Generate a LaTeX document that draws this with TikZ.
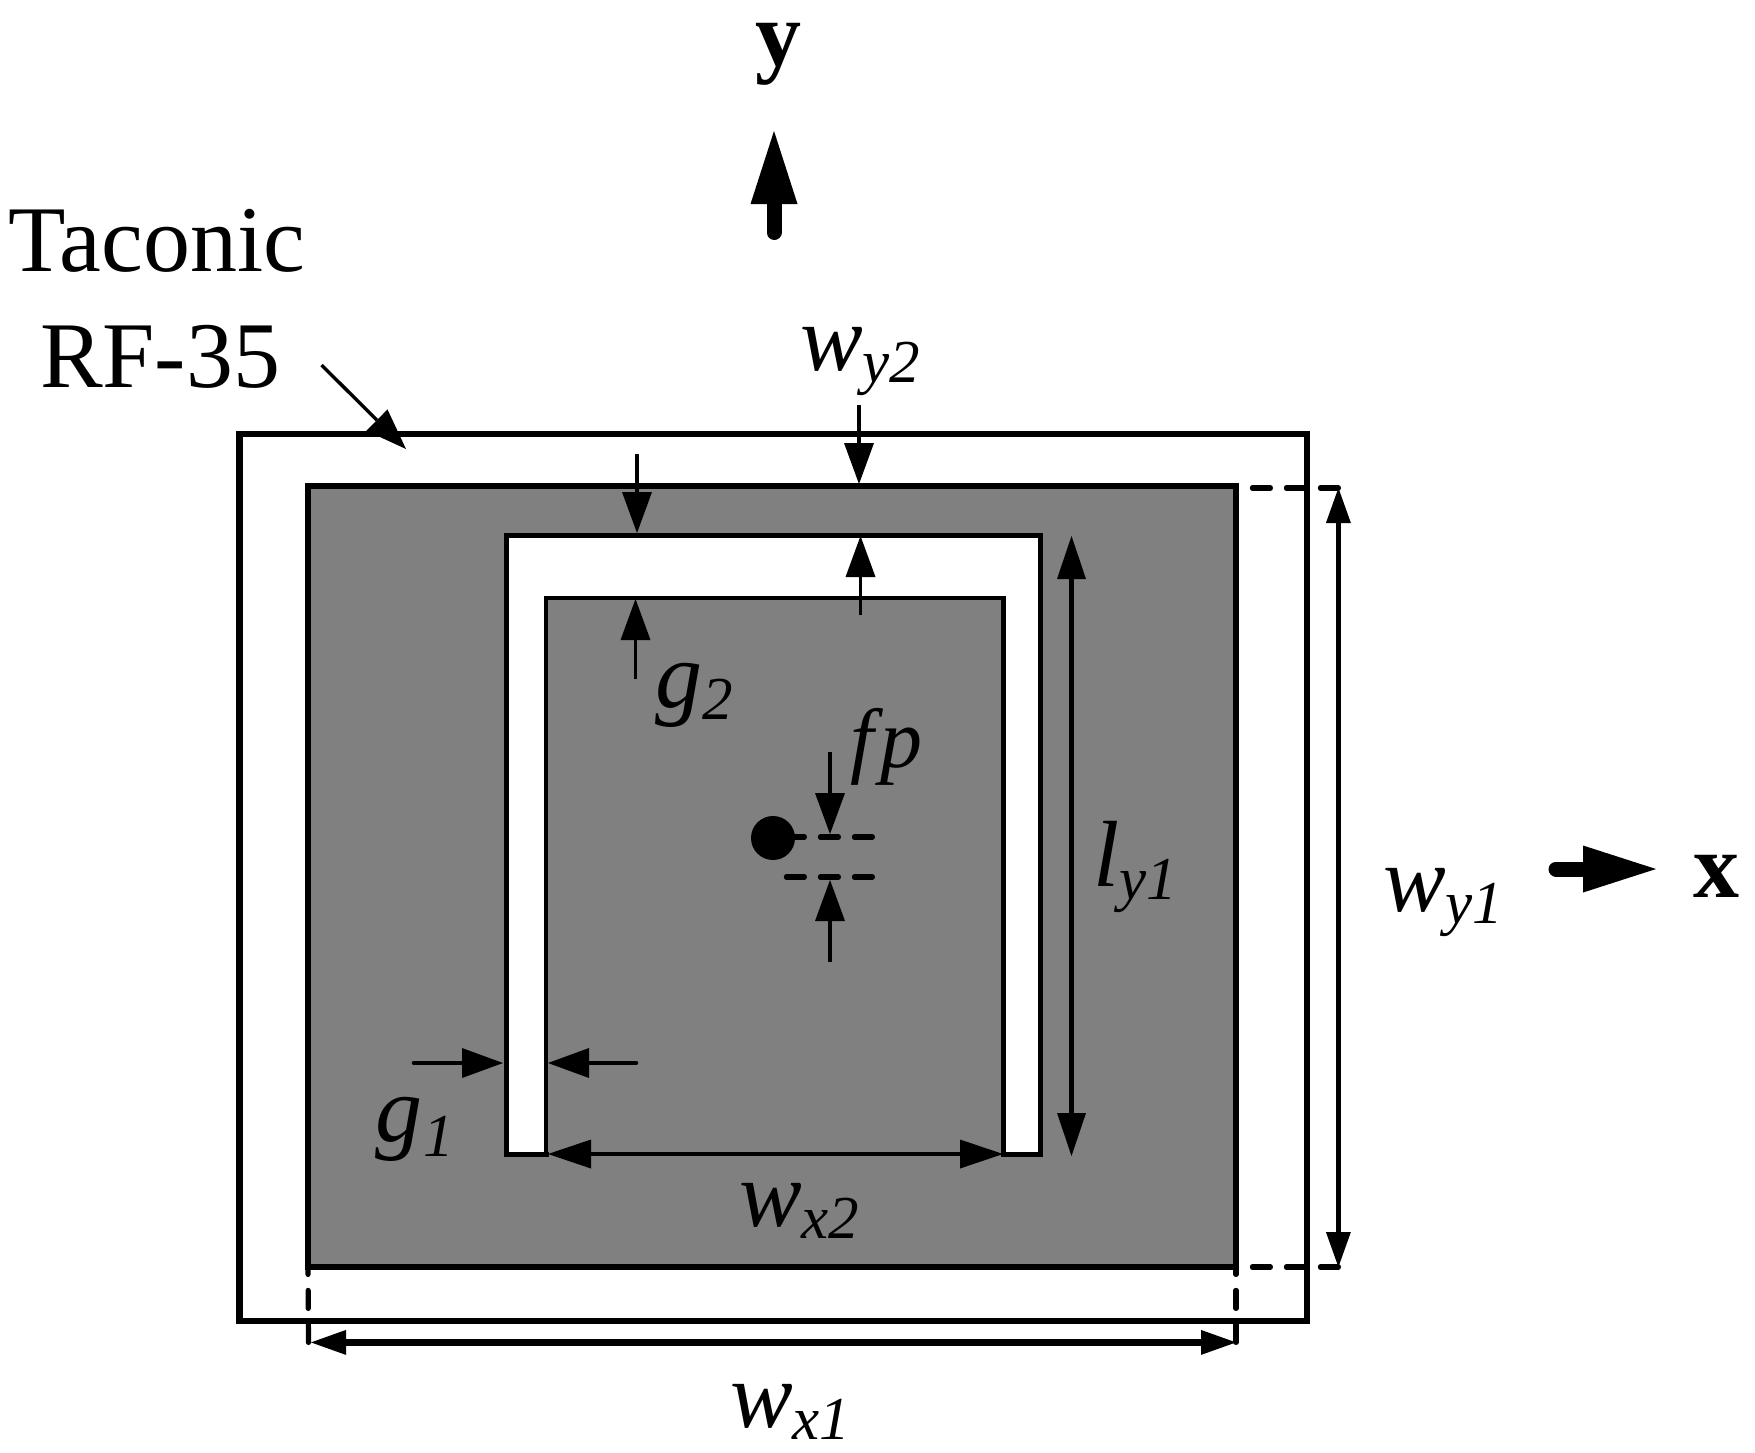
\documentclass[tikz,border=0pt]{standalone}
\usepackage{fontspec}
\setmainfont{Liberation Serif}
\usetikzlibrary{arrows.meta}
\newcommand{\dimlab}[3]{\fontsize{94}{94}\selectfont\textit{#1}\raisebox{-#3pt}{\fontsize{61}{61}\selectfont\textit{#2}}}
\definecolor{gray50}{RGB}{128,128,128}
\tikzset{
  x=1pt,y=-1pt,
  plain/.style={inner sep=0pt,outer sep=0pt,anchor=base west},
  txt/.style={plain,font=\fontsize{94}{94}\selectfont},
  axis/.style={plain,font=\fontsize{92}{92}\selectfont\bfseries},
  frame/.style={draw=black,line width=6.8pt},
  metal/.style={fill=gray50,draw=black,line width=5.8pt},
  dimtip/.style={-{Triangle[length=41pt,width=30pt,line width=0pt]},line width=3.4pt},
  dimthick/.style={-{Triangle[length=41pt,width=30pt,line width=0pt]},line width=4.6pt},
  dimboth/.style={{Triangle[length=43pt,width=29pt,line width=0pt]}-{Triangle[length=43pt,width=29pt,line width=0pt]},line width=4.8pt},
  dimwide/.style={{Triangle[length=35pt,width=25pt,line width=0pt]}-{Triangle[length=35pt,width=25pt,line width=0pt]},line width=5pt},
  guide/.style={line width=5.2pt,dash pattern=on 18pt off 16pt,line cap=round},
  bigarrow/.style={-{Triangle[length=73pt,width=47pt,line width=0pt]},line width=15pt,line cap=round},
}
\begin{document}
\begin{tikzpicture}
\useasboundingbox (0,0) rectangle (1755,1452);
% substrate and patch
\draw[frame,fill=white] (239.5,434) rectangle (1307,1321);
\draw[metal] (308,486) rectangle (1236,1267);
\path[fill=white,draw=black,line width=5pt] (546,1154) -- (546,598) -- (1003,598) -- (1003,1154) -- (1040,1154) -- (1040,535) -- (506,535) -- (506,1154) -- cycle;
\path[fill=gray50] (548,600) rectangle (1000.5,1151.5);
% reference coordinates
\coordinate (gtr) at (1236,488);
\coordinate (gbr) at (1236,1267);
\coordinate (gbl) at (308,1267);
\coordinate (wyTop) at (1338.4,488);
\coordinate (wyBot) at (1338.4,1267);
\coordinate (wxL) at (308.5,1342.4);
\coordinate (wxR) at (1236,1342.4);
\coordinate (wxLt) at (311,1342.4);
% feed
\node[circle,fill=black,minimum size=44pt,inner sep=0pt] (feed) at (773,838) {};
\coordinate (fpA) at (872.4,837);
\coordinate (fpB) at (783,877);
\coordinate (fpC) at (872.4,877);
\draw[guide] (fpA) -- (feed.center |- fpA);
\draw[guide] (fpC) -- (fpB);
% dimension guides
\draw[guide] (wyTop) -- (gtr);
\draw[guide] (wyBot) -- (gbr);
\draw[guide] (wxL) -- (gbl);
\draw[guide] (wxR) -- (gbr);
% dimension arrows
\coordinate (a1) at (859,405); \coordinate (a2) at (859,484);
\draw[dimtip] (a1) -- (a2);
\coordinate (a3) at (860.5,615); \coordinate (a4) at (860.5,536);
\draw[dimtip] (a3) -- (a4);
\coordinate (b1) at (637,454); \coordinate (b2) at (637,533);
\draw[dimtip] (b1) -- (b2);
\coordinate (b3) at (635.5,679); \coordinate (b4) at (635.5,599);
\draw[dimtip] (b3) -- (b4);
\coordinate (c1) at (830,752); \coordinate (c2) at (830,834);
\draw[dimtip] (c1) -- (c2);
\coordinate (c3) at (830,962); \coordinate (c4) at (830,880);
\draw[dimtip] (c3) -- (c4);
\coordinate (d1) at (414,1063); \coordinate (d2) at (503,1063);
\draw[dimthick,line cap=round] (d1) -- (d2);
\coordinate (d3) at (636,1063); \coordinate (d4) at (548,1063);
\draw[dimthick,line cap=round] (d3) -- (d4);
\coordinate (e1) at (548,1154); \coordinate (e2) at (1003,1154);
\draw[dimboth] (e1) -- (e2);
\coordinate (f1) at (1071.5,536); \coordinate (f2) at (1071.5,1156);
\draw[dimboth] (f1) -- (f2);
\draw[dimwide] (wyTop) -- (wyBot);
\draw[dimwide,line width=6.4pt] (wxLt) -- (wxR);
\coordinate (r1) at (321.5,365); \coordinate (r2) at (406,449);
\draw[dimtip] (r1) -- (r2);
% axes
\coordinate (ya) at (774,232.5); \coordinate (yb) at (774,131);
\draw[bigarrow] (ya) -- (yb);
\coordinate (xa) at (1556,869); \coordinate (xb) at (1656,869);
\draw[bigarrow] (xa) -- (xb);
% labels
\node[axis] (ylab) at (755,65) {y};
\node[axis] (xlab) at (1693,897) {x};
\node[txt] (tac) at (9,271) {Taconic};
\node[txt] (rf) at (40,387) {RF-35};
\node[plain] (lwy2) at (800,370) {\dimlab{w}{y2}{12}};
\node[plain] (lwy1) at (1383,911) {\dimlab{w}{y1}{12}};
\node[plain] (lly1) at (1093,886) {\dimlab{l}{y1}{13}};
\node[plain] (lwx2) at (739,1226) {\dimlab{w}{x2}{12}};
\node[plain] (lwx1) at (730,1427) {\dimlab{w}{x1}{12}};
\node[plain] (lg2) at (655,707) {\dimlab{g}{2}{12}};
\node[plain] (lg1) at (375,1141) {\dimlab{g}{\kern1pt 1}{15}};
\node[plain,font=\fontsize{84}{84}\selectfont\itshape] (lfp) at (850,767) {f\kern7pt p};
\end{tikzpicture}
\end{document}
